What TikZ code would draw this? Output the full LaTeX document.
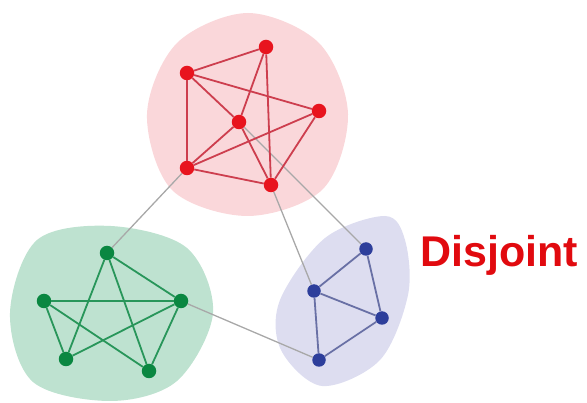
\documentclass[tikz,border=0pt]{standalone}
\usepackage{fontspec}
\setmainfont{Liberation Sans}
\usetikzlibrary{positioning}
\definecolor{rednode}{RGB}{232,20,30}
\definecolor{rededge}{RGB}{205,62,78}
\definecolor{redblob}{RGB}{250,215,218}
\definecolor{greennode}{RGB}{10,135,65}
\definecolor{greenedge}{RGB}{40,150,90}
\definecolor{greenblob}{RGB}{190,226,208}
\definecolor{bluenode}{RGB}{45,62,155}
\definecolor{blueedge}{RGB}{105,112,165}
\definecolor{blueblob}{RGB}{221,221,240}
\definecolor{linkgray}{RGB}{168,168,168}
\definecolor{labelred}{RGB}{225,10,15}

\begin{document}
\begin{tikzpicture}[x=1pt,y=-1pt,
    vtx/.style={circle, inner sep=0pt, minimum size=14.5pt},
    rv/.style={vtx, fill=rednode},
    gv/.style={vtx, fill=greennode},
    bv/.style={vtx, fill=bluenode, minimum size=13.5pt},
    link/.style={linkgray, line width=1.3pt},
    redline/.style={rededge, line width=1.8pt},
    greenline/.style={greenedge, line width=1.8pt},
    blueline/.style={blueedge, line width=1.8pt}]
  \useasboundingbox (0,0) rectangle (587,403);
  \fill[redblob] plot[smooth cycle, tension=0.55] coordinates {(348,114) (323,189) (248,216) (172,190) (147,114) (177,43) (248,13) (319,43)};
  \fill[greenblob] plot[smooth cycle, tension=0.55] coordinates {(213,313) (177,381) (111,401) (33,382) (10,313) (37,240) (111,226) (187,248)};
  \fill[blueblob] plot[smooth cycle, tension=0.55] coordinates {(385,216) (405,240) (408,295) (380,360) (322,386) (281,350) (280,300) (325,238)};
  \node[rv] (r1) at (266,47) {};
  \node[rv] (r2) at (187,73) {};
  \node[rv] (r3) at (319,111) {};
  \node[rv] (r4) at (239,122) {};
  \node[rv] (r5) at (187,168) {};
  \node[rv] (r6) at (271,185) {};
  \node[gv] (g1) at (107,253) {};
  \node[gv] (g2) at (44,301) {};
  \node[gv] (g3) at (181,301) {};
  \node[gv] (g4) at (66,359) {};
  \node[gv] (g5) at (149,371) {};
  \node[bv] (b1) at (366,249) {};
  \node[bv] (b2) at (314,291) {};
  \node[bv] (b3) at (382,318) {};
  \node[bv] (b4) at (319,360) {};
  \draw[link] (r5) -- (g1);
  \draw[link] (r6) -- (b2);
  \draw[link] (r4) -- (b1);
  \draw[link] (g3) -- (b4);
  \foreach \a/\b in {r2/r1, r1/r4, r1/r6, r2/r4, r2/r3, r2/r5, r4/r5, r4/r6, r3/r5, r3/r6, r5/r6}
    \draw[redline] (\a) -- (\b);
  \foreach \a/\b in {g1/g4, g1/g5, g1/g3, g2/g3, g2/g4, g2/g5, g3/g4, g3/g5}
    \draw[greenline] (\a) -- (\b);
  \foreach \a/\b in {b1/b2, b1/b3, b2/b3, b2/b4, b3/b4}
    \draw[blueline] (\a) -- (\b);
  \node[anchor=base west, inner sep=0pt, text=labelred, font=\fontsize{43}{50}\selectfont\bfseries] (label) at (420,267) {Disjoint};
\end{tikzpicture}
\end{document}
